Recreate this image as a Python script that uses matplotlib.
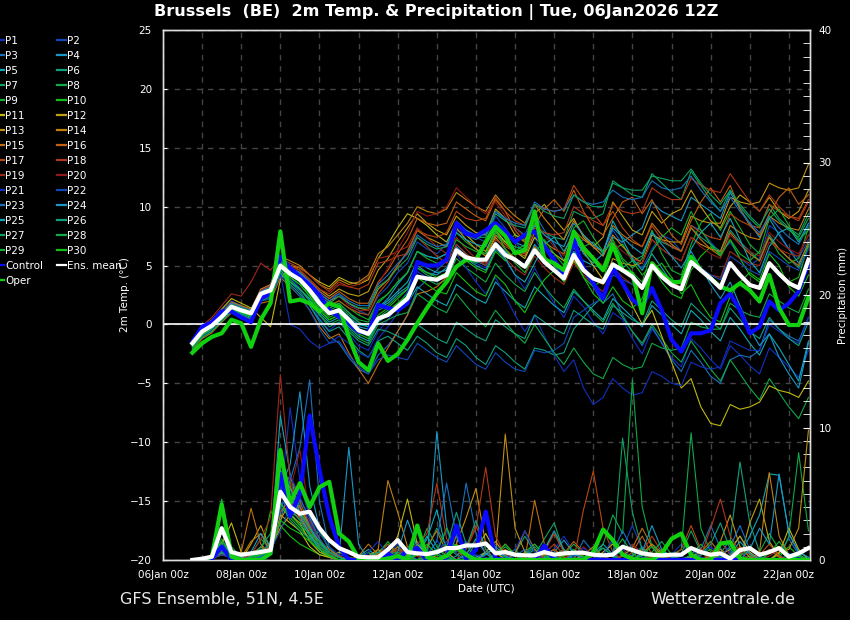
import matplotlib
matplotlib.use("Agg")
import matplotlib.pyplot as plt
import matplotlib.dates as mdates
from matplotlib.lines import Line2D
from matplotlib.ticker import MultipleLocator
import pandas as pd

# ---------------- DATA ----------------
times = pd.date_range("2026-01-06 18:00", "2026-01-22 12:00", freq="6h")  # 64 steps

member_names = [f"P{i}" for i in range(1, 31)]
member_colors = ["#1030c0", "#1048b8", "#1870c0", "#1898c8", "#10a8b8",
                 "#10a080", "#10a060", "#10a848", "#10b030", "#10c010",
                 "#c0b810", "#c0a010", "#c09010", "#c08010", "#c07010",
                 "#c06010", "#b84810", "#b03818", "#a02818", "#901818"]

# 2m temperature (deg C) of the 30 perturbed members
t_p01 = [-1.4,-0.3,0.3,1.2,2.0,1.6,1.0,2.8,3.4,5.6,4.0,3.1,2.0,0.5,-0.5,0.2,
         -0.8,-1.8,-2.2,-0.6,0.4,1.6,2.8,4.5,4.0,3.6,4.4,6.8,6.0,5.2,4.8,6.9,
         5.5,4.2,3.0,4.8,3.2,1.8,0.6,2.4,1.5,0.2,-0.8,1.0,0.4,-1.2,-2.5,-0.4,
         -1.5,-2.8,-3.6,-1.2,-2.0,-3.0,-3.8,-1.8,-2.6,-3.5,-4.2,-2.0,-2.8,-3.6,-4.5,-2.2]
t_p02 = [-1.8,-0.8,0.0,0.8,1.6,1.4,1.2,3.0,3.2,5.4,4.8,4.4,3.6,2.8,2.2,2.6,
         1.8,1.2,0.8,2.4,3.2,4.4,5.2,7.0,6.4,6.0,6.8,8.8,8.0,7.4,7.0,9.2,
         8.2,7.0,6.0,7.4,5.8,4.6,4.2,6.6,7.2,6.6,5.8,8.0,6.8,5.4,4.8,6.4,
         7.6,7.2,6.2,8.4,8.0,7.0,6.0,7.0,5.6,5.0,5.6,8.4,7.8,6.4,5.6,7.2]
t_p03 = [-1.5,-0.5,0.2,1.0,1.8,1.5,1.1,2.4,2.6,4.6,3.6,2.8,1.6,0.2,-1.0,-1.6,
         -2.8,-3.8,-4.2,-2.6,-1.8,-0.6,0.8,3.0,3.8,4.6,5.4,8.0,7.6,7.2,7.8,9.6,
         8.8,8.2,7.6,9.4,8.0,6.8,5.4,6.6,4.8,3.2,1.8,2.6,0.8,-0.6,-1.8,-0.2,
         -1.6,-3.0,-4.0,-2.2,-3.2,-4.4,-5.0,-3.0,-2.6,-2.8,-2.2,0.4,-0.4,-1.0,-1.4,0.6]
t_p04 = [-1.7,-0.7,-0.2,0.6,1.4,1.0,0.8,2.4,2.8,4.8,4.4,4.0,3.2,2.2,1.4,1.8,
         1.0,0.2,-0.2,1.4,1.8,2.6,3.2,5.0,4.4,4.2,4.8,6.6,5.8,5.4,5.0,7.0,
         6.2,5.6,5.0,6.8,5.8,5.0,4.2,6.2,5.4,5.0,4.8,7.4,7.0,7.6,8.2,10.4,
         9.6,9.2,8.8,10.8,10.2,9.6,9.0,11.2,9.8,8.6,7.4,9.0,7.6,6.4,5.2,6.8]
t_p05 = [-1.9,-0.9,-0.4,0.4,1.2,0.9,0.6,2.0,2.4,4.2,3.6,3.0,2.2,1.0,0.2,0.6,
         -0.2,-1.0,-1.4,0.2,0.8,1.4,1.8,3.2,2.6,2.0,1.6,3.4,2.8,2.2,1.8,3.6,
         2.8,2.0,1.4,3.2,2.4,1.6,1.0,2.8,2.0,1.2,0.4,2.2,1.4,0.6,-0.2,1.6,
         0.8,0.0,-0.8,1.2,0.4,-0.6,-1.4,0.6,-0.4,-1.6,-2.6,-0.8,-2.0,-3.4,-4.8,-1.4]
t_p06 = [-2.0,-1.0,-0.6,0.2,1.0,0.7,0.4,2.0,2.2,4.4,3.4,2.6,1.6,0.4,-0.6,-0.2,
         -1.2,-2.2,-2.8,-1.4,-1.0,-1.6,-2.2,-1.0,-1.6,-2.4,-2.8,-1.2,-1.8,-2.8,-3.4,-1.8,
         -2.4,-3.2,-3.8,-2.0,-2.2,-2.6,-2.4,-0.4,0.6,1.6,2.4,4.6,4.8,5.4,5.8,7.8,
         7.0,6.6,6.2,8.2,7.4,6.8,6.2,8.0,7.0,6.2,5.4,7.6,6.4,5.6,4.8,6.6]
t_p07 = [-1.6,-0.6,0.0,0.8,1.6,1.3,1.0,2.6,3.0,5.2,4.6,4.0,3.0,2.0,1.2,1.6,
         0.8,0.2,-0.2,1.2,1.6,2.4,3.0,4.8,4.2,3.8,4.2,6.0,5.6,5.2,5.6,7.6,
         7.0,6.6,6.4,8.4,7.8,7.4,7.2,9.6,9.2,9.0,9.4,12.2,11.6,11.0,10.8,12.8,
         12.0,11.2,10.6,13.0,11.8,10.6,9.6,11.4,10.0,9.0,8.2,10.2,9.0,8.2,7.6,9.4]
t_p08 = [-1.8,-0.8,-0.2,0.6,1.4,1.1,0.9,2.4,2.8,4.8,4.0,3.4,2.4,1.2,0.4,0.8,
         0.0,-0.6,-1.0,0.6,1.2,1.8,2.6,4.2,3.8,3.4,3.8,5.6,4.8,4.2,3.6,5.2,
         4.2,3.4,2.8,4.4,3.2,2.2,1.4,3.0,2.0,1.0,0.2,1.8,0.6,-0.6,-1.6,0.0,
         -1.2,-2.4,-3.2,-1.4,-2.6,-3.8,-4.8,-3.0,-4.2,-5.4,-6.4,-4.6,-5.8,-7.0,-8.0,-6.2]
t_p09 = [-1.5,-0.4,0.1,0.9,1.7,1.4,1.1,2.7,3.1,5.2,4.6,4.2,3.4,2.4,1.6,2.0,
         1.4,0.8,0.4,2.0,2.6,3.6,4.4,6.2,5.8,5.6,6.0,7.8,7.0,6.4,6.0,7.8,
         7.0,7.6,7.2,8.8,6.8,5.0,4.2,5.6,6.6,7.0,6.0,7.2,5.6,4.8,5.6,8.0,
         6.0,4.6,4.2,6.8,8.6,9.4,8.0,9.6,8.2,6.8,6.0,7.4,6.0,5.2,5.6,8.2]
t_p10 = [-1.7,-0.6,-0.1,0.7,1.5,1.2,0.9,2.5,2.9,5.0,4.2,3.6,2.6,1.4,0.6,1.0,
         0.2,-0.4,-0.8,0.8,1.4,2.2,3.0,4.8,4.4,4.0,4.4,6.2,5.4,4.8,4.4,6.2,
         5.4,6.2,6.8,8.6,7.0,5.2,4.0,5.4,4.0,3.2,3.8,6.4,6.8,5.4,4.2,5.0,
         3.6,2.6,2.2,4.6,5.8,6.6,6.0,7.2,5.6,4.2,3.6,5.0,4.2,3.6,4.0,6.8]
t_p11 = [-1.4,-0.2,0.4,1.3,2.2,1.8,1.4,0.6,-0.2,3.8,5.0,4.8,4.2,3.6,3.2,4.0,
         3.6,3.4,3.8,5.6,6.8,8.2,9.4,9.0,8.4,7.6,7.0,8.6,7.6,6.8,6.2,8.0,
         7.0,6.2,5.6,7.4,6.6,6.0,5.4,7.2,6.2,5.0,3.8,5.2,3.4,1.6,0.0,1.2,
         -1.0,-3.2,-5.4,-4.6,-7.0,-8.4,-8.6,-6.8,-7.2,-7.0,-6.6,-5.2,-5.6,-5.8,-6.2,-4.8]
t_p12 = [-1.6,-0.5,0.1,0.9,1.8,1.5,1.2,2.8,3.2,5.6,5.0,4.6,3.8,3.0,2.4,3.0,
         2.6,2.4,2.8,4.6,5.6,7.0,8.2,9.4,8.6,8.0,7.6,9.2,8.4,7.8,7.6,9.8,
         9.0,7.6,7.0,9.4,10.2,9.0,8.0,9.0,7.4,6.6,7.4,10.4,9.2,8.0,7.6,9.6,
         8.6,9.4,9.8,11.4,10.0,8.8,8.2,10.0,11.0,10.4,9.6,10.8,9.6,9.0,9.6,11.4]
t_p13 = [-1.7,-0.7,-0.1,0.7,1.6,1.3,1.0,2.6,3.0,5.4,4.8,4.4,3.6,2.6,2.0,2.4,
         1.8,1.4,1.2,3.0,3.8,5.0,6.2,8.0,7.4,7.0,6.6,8.2,7.2,6.4,5.8,7.4,
         6.4,5.6,5.0,6.6,5.6,4.6,3.8,5.4,4.6,3.8,3.4,5.6,5.2,5.0,5.2,7.6,
         7.2,7.0,7.0,9.2,8.8,8.6,8.6,10.8,10.4,10.2,10.4,12.0,11.6,11.4,11.6,13.6]
t_p14 = [-1.5,-0.4,0.2,1.0,1.9,1.6,1.3,3.0,3.4,5.8,5.4,5.0,4.2,3.4,3.0,3.8,
         3.4,3.6,4.2,6.0,6.6,7.6,8.6,10.0,9.6,9.4,9.8,11.2,10.6,10.0,9.6,11.0,
         10.0,9.2,8.6,10.2,9.0,8.0,7.2,8.8,7.6,6.6,5.8,7.6,6.6,5.8,5.2,7.2,
         6.4,5.8,5.4,7.4,6.8,6.4,6.2,8.4,7.8,7.4,7.2,9.2,8.6,8.2,8.0,9.8]
t_p15 = [-2.2,-1.2,-0.7,0.2,1.0,0.7,0.4,1.8,2.0,4.0,3.2,2.4,1.2,-0.2,-1.2,-0.8,
         -2.4,-3.8,-5.0,-3.4,-2.0,-0.6,0.8,2.6,2.8,3.2,4.0,6.0,5.6,5.4,5.6,7.6,
         6.8,6.2,5.8,7.8,7.0,6.4,6.0,8.0,7.2,6.6,6.2,8.4,7.6,7.0,6.6,8.6,
         7.6,6.8,6.2,8.2,7.2,6.4,5.8,7.8,6.8,6.0,5.4,7.4,6.4,5.6,5.0,7.0]
t_p16 = [-1.6,-0.6,0.0,0.8,1.6,1.3,1.1,2.8,3.2,5.6,5.0,4.6,3.8,2.8,2.2,2.8,
         2.2,1.8,1.8,3.6,4.6,6.0,7.2,9.0,8.6,8.4,8.6,10.4,9.8,9.2,8.8,10.6,
         9.6,8.0,7.0,8.4,9.8,10.6,9.6,11.4,9.6,8.2,7.6,9.0,10.4,10.8,9.4,10.6,
         9.0,7.6,6.8,8.8,10.4,11.6,10.4,11.8,9.8,8.4,7.6,9.4,10.8,11.6,10.2,11.0]
t_p17 = [-1.8,-0.8,-0.2,0.6,1.4,1.1,0.8,2.4,2.8,5.0,4.4,4.0,3.2,2.2,1.6,2.0,
         1.4,1.0,0.8,2.6,3.6,5.0,6.2,8.0,7.6,7.4,7.8,9.6,9.0,8.8,9.0,10.8,
         9.6,8.8,8.4,10.2,9.8,9.6,9.8,11.8,10.6,9.4,8.4,9.6,8.2,7.2,6.6,8.4,
         7.2,6.6,6.2,8.4,7.8,7.4,7.2,9.4,8.8,8.4,8.2,10.2,9.6,9.2,9.0,10.6]
t_p18 = [-1.6,-0.6,0.1,0.9,1.7,1.4,1.2,2.9,3.3,5.6,5.2,4.8,4.2,3.4,2.8,3.6,
         3.2,3.0,3.4,5.2,5.4,5.8,6.0,7.4,6.6,5.8,5.2,6.8,6.0,5.4,5.2,7.2,
         6.6,6.2,6.0,8.2,7.8,7.6,7.8,10.0,9.4,8.8,8.4,10.2,9.6,9.4,9.6,11.6,
         11.0,10.6,10.6,12.4,11.8,11.4,11.2,12.8,11.6,10.4,9.6,11.0,10.0,9.2,8.8,10.4]
t_p19 = [-1.3,-0.1,0.6,1.6,2.6,2.4,3.6,5.2,4.6,5.8,5.0,4.6,3.8,3.0,2.6,3.4,
         3.2,3.4,4.0,5.6,5.8,6.2,6.6,8.2,7.4,6.6,6.0,7.4,6.4,5.6,5.0,6.6,
         5.6,4.8,4.2,5.8,4.8,4.0,3.4,5.2,4.2,3.4,2.8,4.8,4.0,3.4,3.0,5.0,
         4.2,3.6,3.2,5.2,4.6,4.2,4.0,6.2,5.6,5.2,5.0,7.0,6.4,6.0,5.8,7.6]
t_p20 = [-1.7,-0.7,-0.1,0.7,1.5,1.2,1.0,2.6,3.0,5.2,4.6,4.2,3.4,2.4,1.8,2.4,
         1.6,1.2,1.2,3.4,4.8,6.4,7.8,9.6,9.2,9.4,10.0,11.6,10.8,10.0,9.4,10.4,
         9.2,8.2,7.4,8.8,7.6,6.6,5.8,7.4,6.4,5.6,5.0,7.0,6.2,5.6,5.2,7.2,
         6.4,5.8,5.4,7.4,6.6,6.0,5.6,7.6,6.8,6.2,5.8,7.8,7.0,6.4,6.0,7.6]
t_p21 = [-1.6,-0.5,0.0,0.8,1.6,1.2,0.8,2.2,2.4,4.4,0.0,-0.4,-1.4,-2.0,-1.6,-1.0,
         -1.6,-2.4,-2.8,-1.2,-0.2,1.0,2.2,4.2,4.0,3.8,4.2,6.0,4.8,3.6,2.6,4.0,
         2.4,0.8,-0.6,0.8,-1.0,-2.6,-4.0,-3.0,-5.4,-6.8,-6.2,-4.6,-5.4,-6.0,-5.8,-4.0,
         -4.4,-5.0,-5.2,-3.2,-3.6,-3.8,-3.6,-1.4,-1.8,-2.2,-2.2,0.0,-0.6,-1.2,-1.6,0.6]
t_p22 = [-1.9,-1.0,-0.5,0.3,1.1,0.8,0.5,2.0,2.2,4.2,3.2,2.4,1.2,-0.4,-1.6,-1.4,
         -2.6,-3.6,-4.2,-3.0,-2.6,-2.8,-3.0,-1.6,-2.2,-2.8,-3.2,-1.8,-2.6,-3.4,-3.8,-2.4,
         -3.2,-3.8,-4.0,-2.2,-2.4,-2.2,-1.6,0.6,1.2,1.8,2.2,4.2,3.8,3.4,3.2,5.2,
         4.4,3.8,3.4,5.4,4.8,4.2,3.8,5.8,5.2,4.6,4.2,6.2,5.6,5.0,4.6,6.4]
t_p23 = [-1.5,-0.4,0.2,1.0,1.8,1.5,1.2,2.8,3.2,5.4,4.8,4.4,3.6,2.6,2.0,2.6,
         2.0,1.6,1.6,3.4,4.2,5.2,6.0,7.6,7.0,6.6,6.8,8.6,8.0,7.6,7.6,9.6,
         9.0,8.6,8.4,10.4,9.8,9.6,9.8,11.0,10.4,10.2,10.4,11.4,10.8,10.6,10.8,12.2,
         11.6,11.4,11.6,12.6,11.4,10.4,9.6,10.8,9.6,8.6,7.8,9.2,8.2,7.4,6.8,8.4]
t_p24 = [-1.7,-0.6,0.0,0.8,1.6,1.3,1.0,2.6,3.0,5.2,4.4,3.8,2.8,1.6,0.8,1.2,
         0.4,-0.2,-0.4,1.4,2.2,3.4,4.4,6.2,5.8,5.6,6.0,7.8,7.2,6.8,6.6,8.4,
         7.6,7.0,6.6,8.4,7.6,7.0,6.6,8.6,7.6,6.8,6.2,8.2,7.4,6.6,6.0,7.8,
         6.8,5.8,4.8,6.2,4.8,3.4,2.2,3.6,1.6,-0.4,-1.8,-0.8,-2.8,-4.2,-5.4,-1.6]
t_p25 = [-1.8,-0.7,-0.2,0.6,1.4,1.1,0.9,2.5,2.8,4.9,4.2,3.8,2.8,1.8,1.0,1.4,
         0.6,0.0,-0.2,1.4,2.0,2.8,3.6,5.4,4.8,4.4,4.6,6.4,5.6,5.0,4.6,6.4,
         5.6,4.2,3.6,5.2,6.8,7.4,6.2,7.6,6.0,5.2,6.0,8.8,7.2,5.6,4.6,6.0,
         4.8,3.6,3.8,6.4,7.8,8.6,7.4,9.0,7.2,5.4,4.4,6.6,7.8,8.2,7.0,8.6]
t_p26 = [-1.9,-0.9,-0.4,0.5,1.3,1.0,0.7,2.2,2.6,4.6,3.8,3.0,2.0,0.8,-0.2,0.2,
         -0.6,-1.4,-1.8,-0.4,-0.6,-1.0,-1.4,0.0,-0.6,-1.2,-1.6,0.2,-0.4,-1.0,-1.4,0.4,
         -0.2,-0.8,-1.2,0.8,0.2,-0.4,-0.8,1.2,0.6,0.0,-0.4,1.6,1.0,0.4,0.0,2.0,
         1.2,0.4,-0.2,1.8,1.0,0.2,-0.4,1.4,0.4,-0.6,-1.2,0.6,-0.4,-1.2,-1.8,0.2]
t_p27 = [-1.6,-0.5,0.1,0.9,1.7,1.4,1.1,2.7,3.1,5.3,4.7,4.3,3.4,2.4,1.8,2.4,
         1.8,1.4,1.4,3.2,3.8,4.8,5.6,7.4,6.8,6.4,6.6,8.4,7.8,7.4,7.4,9.4,
         8.8,8.4,8.2,10.2,9.6,9.2,9.0,11.0,10.4,10.0,10.0,12.0,11.6,11.4,11.4,12.6,
         12.4,12.2,12.2,13.2,12.0,11.0,10.2,11.4,10.2,9.2,8.4,9.8,8.8,8.0,7.4,9.0]
t_p28 = [-2.1,-1.1,-0.6,0.3,1.1,0.8,0.5,2.0,2.4,4.4,3.6,3.0,2.0,0.8,0.0,0.4,
         -0.4,-1.2,-1.6,0.0,0.4,0.8,1.0,2.6,2.0,1.4,1.0,2.6,1.6,0.6,-0.2,1.2,
         0.2,-0.8,-1.6,0.0,-1.2,-2.4,-3.4,-2.0,-3.2,-4.2,-4.6,-2.8,-3.4,-3.8,-3.6,-1.6,
         -2.0,-2.2,-2.0,0.2,-0.2,-0.4,-0.4,1.8,1.2,0.8,0.6,2.6,2.0,1.4,1.0,3.0]
t_p29 = [-1.7,-0.7,-0.1,0.7,1.5,1.2,1.0,2.6,3.0,5.1,4.5,4.1,3.2,2.2,1.4,1.8,
         1.0,0.4,0.2,1.8,2.6,3.6,4.4,6.2,5.6,5.2,5.4,7.2,6.6,6.2,6.0,8.0,
         6.4,5.2,4.4,6.0,7.2,6.0,5.0,8.2,8.8,7.4,6.2,7.0,5.4,4.4,3.6,6.2,
         7.4,8.2,7.6,9.6,8.0,6.8,5.8,7.2,6.0,5.4,6.2,9.0,9.8,8.4,7.2,8.0]
t_p30 = [-1.9,-0.9,-0.3,0.5,1.3,1.0,0.7,2.3,2.7,4.8,4.0,3.4,2.4,1.2,0.4,0.8,
         0.0,-0.8,-1.2,0.4,1.0,1.8,2.4,4.0,3.4,2.8,2.6,4.4,3.6,2.8,2.4,4.2,
         3.4,2.0,1.0,2.6,3.8,4.6,3.6,5.8,4.0,2.6,1.8,3.2,2.0,1.4,2.2,4.6,
         5.2,4.0,2.6,3.4,1.8,0.6,0.2,2.4,3.6,4.4,3.8,6.0,5.0,3.2,2.4,4.2]

t_control = [-1.5,-0.2,0.2,1.1,1.1,0.6,0.2,2.2,2.6,5.75,4.8,4.05,3.35,2.5,1.2,0.65,
             0.1,-0.6,-0.75,1.65,1.4,1.2,1.8,5.3,5.0,5.0,5.5,8.6,7.7,7.5,8.0,8.6,
             7.9,7.0,7.6,7.9,6.6,5.5,4.2,7.2,4.8,3.5,2.2,4.8,3.5,2.1,1.5,3.1,
             1.2,-1.3,-2.3,-0.75,-0.75,-0.5,1.8,2.6,1.2,-0.75,-0.2,1.95,1.2,1.8,2.8,5.2]
t_oper = [-2.4,-1.6,-1.05,-0.75,0.4,0.1,-1.9,0.4,1.8,7.9,1.95,2.1,1.8,1.1,1.8,1.5,
          -1.05,-3.2,-3.9,-1.6,-3.1,-2.5,-1.3,0.1,1.4,2.6,3.6,4.9,5.5,5.5,7.0,8.3,
          7.5,6.05,6.3,9.6,5.5,5.2,4.6,7.9,6.5,5.6,4.6,6.75,4.6,4.3,0.95,5.2,
          4.3,3.6,3.6,5.75,4.6,3.9,3.2,2.9,3.5,2.9,1.95,4.2,1.4,-0.05,-0.05,2.3]
t_mean = [-1.6,-0.6,-0.1,0.65,1.5,1.2,0.95,2.6,2.9,5.0,4.3,3.8,2.9,1.8,0.95,1.2,
          0.4,-0.5,-0.8,0.5,0.8,1.5,2.2,4.05,3.9,3.8,4.2,6.3,5.7,5.5,5.5,6.8,
          5.9,5.5,4.9,6.3,5.3,4.6,3.9,5.9,4.6,3.9,3.6,5.1,4.6,4.05,3.1,5.0,
          4.05,3.35,3.0,5.3,4.6,3.9,3.1,5.2,4.2,3.35,3.1,5.2,4.3,3.5,3.1,5.5]

# 6-hourly precipitation (mm) of the 30 perturbed members
r_p01 = [0,0,0.2,1.2,0.4,0,0,0.3,0.8,4.5,11.5,6.0,3.2,1.5,0.4,0,
         0,0,0.5,0.2,0,0,0.3,0.8,0.2,1.5,0.5,0,0,0,0.6,1.2,
         0.4,0,0,0,0.2,0.8,1.8,0.6,0,0,0.3,1.4,0.8,0.2,0,0,
         0,0.4,1.2,0.3,0,0,0,0.6,1.8,0.4,0,0,0,0.5,0.2,0]
r_p02 = [0,0,0.1,0.8,0.2,0,0.2,0.6,1.4,3.2,5.4,4.2,2.0,0.8,0.2,0,
         0,0.2,0,0,0.4,1.2,0.5,0,0,0.8,2.2,0.6,1.4,0.3,0,0,
         0,0,0.4,1.2,0.5,0,0,0,0.2,0.6,0,0,0.9,2.6,0.8,0,
         0,0,0.3,0,0,0.5,1.4,0.6,0,0,0.2,0.8,0.3,0,0,0]
r_p03 = [0,0,0.3,1.0,0.6,0.1,0,0.2,0.6,2.8,6.0,8.5,13.6,4.4,1.0,0.2,
         0,0,0,0.4,0,0,0.6,1.4,0.4,0,0,1.2,5.8,2.0,0.5,0,
         0,0,0,0.3,0.8,0.2,0,0,1.5,0.6,0,0,0,0.4,1.0,0.3,
         0,0,0,0.2,0.8,2.6,0.9,0,0,0.3,0,0,0.6,1.6,0.4,0]
r_p04 = [0,0,0.2,0.6,0.3,0,0,0.4,1.0,5.5,7.2,12.7,5.6,2.4,0.8,0.3,
         8.5,1.2,0,0,0.3,0.8,0.2,0,0,9.7,2.5,0.4,0,0,0.5,0.8,
         0.2,0,0,0,0,0.6,1.5,0.5,0,0,0,0,0.4,0.8,0.2,0,
         0,0,0,0,0,0.4,0.2,0,0,0,0,0,0,0,0,0]
r_p05 = [0,0,0.1,0.5,0.2,0,0,0.2,0.8,10.9,6.5,3.4,2.8,1.2,0.4,0,
         0,0.3,0.8,0.2,0,0,0,0.4,1.6,3.8,0.6,0,0,0.2,0.6,0,
         0,0,0.3,0.8,0.2,0,0,0,0,0.5,1.2,0.4,0,0,0.4,0,
         0,0,0,0.3,0.6,0.2,0,0,0.4,1.8,3.4,6.5,6.4,2.0,0.6,0.2]
r_p06 = [0,0,0.2,1.4,0.5,0,0.3,1.0,0.6,7.2,5.8,4.0,2.6,1.0,0.3,0,
         0,0,0,0.6,1.2,0.4,0,0,0.8,2.4,1.0,3.6,1.2,0,0,0,
         0,0.5,1.8,0.6,0,0,0,0,0.3,0,0,0,0,0,0.4,1.2,
         0.6,0,0,0,0,0,0.5,1.5,7.4,2.8,0.6,0,0,0,0.3,0]
r_p07 = [0,0,0.3,2.2,0.6,0,0.4,1.6,0.8,6.4,4.0,3.0,1.8,1.2,0.6,0.2,
         0,0,0,0.2,0.6,0,0,0.5,2.4,1.0,0.3,0,0,1.4,3.2,0.8,
         0,0,0,0.4,1.6,2.8,0.6,0,0,0.3,0,0,9.2,3.6,0.8,0,
         0,0,0.5,2.2,0.6,0,0,0,0,0.3,0,0,0,0,0.4,0]
r_p08 = [0,0,0.2,1.6,0.4,0,0,0.6,1.2,5.2,3.6,2.6,1.6,0.6,0.2,0,
         0,0.2,0.6,0,0,0,0.4,1.2,0.3,0,0,1.8,0.6,0,0,0,
         0.3,0.8,0,0,0,0,0.4,1.2,0.5,0,1.2,3.4,2.0,13.6,4.0,1.0,
         0,0.4,0.8,9.6,2.4,0.6,0,0,0.3,0.8,0.2,0,0,1.8,8.1,2.2]
r_p09 = [0,0,0.4,4.6,1.0,0.2,0,0.3,0.6,4.0,3.2,2.4,1.6,2.2,0.8,0.2,
         0,0,0,0.5,1.4,0.4,0,0,0,0.6,2.4,0.8,0,0,0,0.3,
         1.0,0.4,0,0,0,0.4,0.8,0.2,0,0,0,0.6,1.6,0.5,0,0,
         0,0,0,0.4,1.2,0.3,0,0,0,0,0.6,2.0,0.8,0,0,0]
r_p10 = [0,0,0.2,1.0,0.4,0,0,0.4,3.7,2.6,1.8,1.2,0.8,0.4,0.2,0,
         0,0,0,0,0.3,1.0,0.3,0,0,0.4,1.0,0.4,0,0,0,0,
         0,0,0.6,1.2,0.4,0,0,0,0,0.3,0.9,0.3,0,0,0,0,
         0.3,0,0,0,0.4,0.8,0.2,0,0,0,0,0,0.4,1.0,0.3,0]
r_p11 = [0,0,0.3,1.2,2.8,0.6,0.3,0.4,0.8,3.4,2.8,2.2,1.0,0.4,0.2,0.6,
         0.2,0,0,0,0.5,1.8,4.6,1.2,0.4,0,0,0,0,0.8,2.0,0.6,
         0,0,0,0,0.4,0.8,0.2,0,0,0,0.6,1.2,0.4,0,0,0.3,
         0.8,0.2,0,0,0,0,0.4,0.8,1.8,0.6,0,0,0.5,2.4,0.8,0]
r_p12 = [0,0,0.2,0.6,0.3,0,1.2,2.6,0.8,2.4,3.4,2.8,1.4,0.6,0.3,0,
         0,0,0.3,0.8,0.2,0,0,0,0.4,0.2,0,0,0,0,0.6,1.4,
         0.4,0,0,0,0.8,2.0,0.6,0,0,0,0,0,0,0.3,0.8,0.2,
         0,0,0,0.2,0.6,0.2,0,0,0,2.8,4.6,1.4,0.3,0,0,0]
r_p13 = [0,0,0.1,0.4,0.2,0,0.6,0.8,0.4,3.0,4.4,3.2,2.0,0.8,0.2,0,
         0,0,0.2,0.4,0,0,0.5,1.0,0.3,0,0,1.2,3.2,5.4,1.2,0.4,
         9.5,2.4,0.6,0,0,0,0.3,0.6,0.2,0,0,0,0,0,0,0,
         0,0,0,0,0,0.4,1.4,3.4,1.0,0.2,0,0,0.6,0.8,2.4,9.8]
r_p14 = [0,0,0.2,0.6,0.4,0.2,1.4,2.0,0.6,4.8,5.6,3.6,2.2,1.4,0.6,0.2,
         0,0,0,0.8,6.0,3.6,1.0,0.3,0,0,0.4,1.2,0.4,0,0,0,
         0,0.5,2.2,0.8,0,0,0,0,0.4,1.0,0.3,0,0,0,0.5,1.2,
         0.4,0,0,0,0,0.3,0.8,0.2,0,0,0.6,6.6,1.8,0.4,0,0]
r_p15 = [0,0,0.3,1.0,0.4,0.6,3.9,1.2,0.4,3.6,4.6,4.0,2.4,1.0,0.4,0.2,
         0,0.3,1.2,0.4,0,0,0,0.4,1.0,2.2,0.6,0,0,0,0,0.4,
         1.2,0.4,0,4.5,1.2,0,0,0,0,0,0,0,0.3,0.9,2.4,1.0,
         0.2,0,0,0,0.6,1.4,0.5,0,0,0,0.3,0.8,0.2,0,0,0]
r_p16 = [0,0,0.2,0.8,0.3,0,0.4,1.0,0.5,5.0,6.4,4.4,2.6,1.4,0.8,0.3,
         0,0,0,0,0.4,1.0,0.3,0,0,0,0.6,1.8,0.5,0,0,0.3,
         0.8,0.3,0,0,0,0,0.5,1.4,0.6,0,0,0,0,0.6,1.8,0.4,
         0,0,0,0,0,0,0,0.3,1.0,0.4,0,0,0,0,0,0]
r_p17 = [0,0,0.2,0.6,0.3,0,0.2,0.8,0.4,4.2,3.6,3.2,2.4,1.2,0.6,0.2,
         0,0,0,0.4,1.2,0.5,0,0,0,0,0,0,1.0,2.6,0.8,0,
         0,0,0,0,0.3,0.8,0.2,0,3.8,6.7,2.4,0.6,0,0,0,0,
         0,0.3,0.8,2.6,0.8,0,0,0,0,0,0.4,1.2,0.3,0,0,0]
r_p18 = [0,0,0.3,0.8,0.4,0,0.3,0.6,1.2,5.6,4.4,3.8,3.0,1.6,0.6,0.2,
         0,0,0,0,0.3,0.8,0.4,1.2,2.0,5.8,1.6,0.4,0.8,2.4,7.0,1.8,
         0.4,0,0,0,0.5,1.2,0.4,0,0,0,0,0,0,0,0.6,1.8,
         0.6,0,0,0,0.3,2.4,4.6,1.8,0.6,0,0,0,0,0,0,0]
r_p19 = [0,0,0.2,0.8,0.3,0,0.4,1.6,3.2,14.0,6.0,3.4,2.2,1.0,0.4,0,
         0,0,0,0,0,0.4,1.0,0.3,0,0,0.4,0.8,0.2,0,0,0,
         0,0,0,0,0.6,2.0,0.6,0,0,0,0,0,0.4,1.2,0.5,0,
         0,0,0,0,0,0.5,1.4,0.4,0,0,0,0.3,0.8,0.2,0,0]
r_p20 = [0,0,0.1,0.4,0.2,0,0,0.5,1.0,4.6,5.2,8.3,3.2,1.4,0.5,0.2,
         0,0,0,0,0,0.3,0.8,0.3,0,0,0,0,0.5,1.4,0.6,0,
         0,0,0,0,0,0,0,0.4,1.0,0.3,0,0,0,0,0,0,
         0,0,0,0,0,0,0,0,0.3,0.8,0.2,0,0,0,0,0]
r_p21 = [0,0,0.2,0.6,0.3,0,0,0.3,0.6,3.8,6.4,4.8,2.8,1.2,0.4,0,
         0,0,0.6,1.4,0.4,0,0,0,0.3,0.8,0.3,0,0,0.4,0.2,0,
         0,0.8,2.2,0.6,0,0,0,0.3,0.9,0.3,0,0,0,0,0,0,
         0,0,0,0,0.4,1.0,0.3,0,0,0,0,0,0,0,0,0]
r_p22 = [0,0,0.1,0.4,0.2,0,0.2,0.5,0.8,2.2,4.0,5.6,3.4,2.0,1.0,0.4,
         0.2,0,0,0.3,0.6,0.2,0,0,0,0.6,1.4,0.4,0,0,0,0,
         0,0,0,0.4,1.0,0.3,0,0,0,0,0.4,1.6,0.5,0,0,0,
         0,0,0.3,0.8,0.2,0,0,0,0,0,0,0,0,0,0,0]
r_p23 = [0,0,0.2,0.8,0.4,0.1,0,0.3,0.6,4.0,5.0,4.6,3.2,1.6,0.6,0.2,
         0,0,0,0,0.5,1.6,0.5,0,0.4,1.4,5.8,1.8,0.4,0,0,0,
         0,0.3,0.8,0.2,0,0,0,0,0,0,0,0.6,2.2,0.8,0.2,0,
         0,0,0,0,0,0,0.3,1.0,2.6,0.8,0.2,0,0,0,0,0]
r_p24 = [0,0,0.3,1.0,0.6,0.2,0.6,2.0,1.0,6.0,4.8,3.4,2.0,0.8,0.3,0,
         0,0,0,0,0,0.6,3.0,1.0,0.3,0,0,0,0,0,0.4,1.0,
         0.3,0,0,0,0,0,0,0.4,0.2,0,0,0,0,0,0.6,2.6,
         0.8,0.2,0,0,0,0,0,0,0,0.8,2.4,1.2,6.5,2.0,0.6,0.2]
r_p25 = [0,0,0.2,0.8,0.3,0,0.3,0.8,0.5,6.8,5.4,3.6,2.4,1.4,0.6,0.2,
         0,0,0,0,0,0,0,0.6,1.8,0.6,0,0,0.4,1.6,0.5,0,
         0,0,0,0,0.8,2.2,0.8,0,0,0,0,0,0,0,0,0,
         0,0,0,0,0,0,0,0.4,1.4,0.5,0,0,0,0,0,0]
r_p26 = [0,0,0.2,1.0,0.4,0,0,0.6,1.2,5.8,3.8,3.0,1.8,0.8,0.3,0,
         0,0,0.3,0.6,0.2,0,0,0,0,0,0,0.3,0.9,3.0,0.8,0,
         0,0,0,0,0,0,0,0,0,0.5,0.9,0.3,0,0,0,0,
         0,0,0,0,0.4,1.2,2.8,0.8,0,0,0,0,0,0,0.3,0.8]
r_p27 = [0,0,0.3,1.2,0.4,0,0.2,1.0,2.0,4.4,3.0,2.2,1.6,1.2,0.6,0.2,
         0,0,0,0,0,0.3,0.8,2.4,0.6,0,0,0,0,0,0,0,
         0,0,0.4,1.0,0.3,0,0,0,0,0,0,0,0,0.3,0.9,0.3,
         0,0,0,0,0,0,0,0,0,0,0,0,0,0,0,0]
r_p28 = [0,0,0.2,0.6,0.2,0,0,0.4,0.8,5.0,4.2,3.6,2.4,1.0,0.4,0,
         0,0,0,0,0.4,0.6,0.2,0,0,0,0.4,1.0,0.3,0,0,0,
         0,0,0,0.4,0.6,0.2,0,0,0,0,0,0,0,0,0,0.6,
         1.4,0.4,0,0,0,0,0,0,0.3,0.9,0.3,0,0,0,0,0]
r_p29 = [0,0,0.3,1.4,0.6,0,0.2,0.6,0.4,4.2,3.4,2.6,2.0,1.4,0.4,0,
         0,0,0,0,0,0,0,0,0.3,0.8,0.3,0,0,0,0,0.4,
         1.2,0.4,0,0,0,0,0,0,0,0,0,0,0,0,0.4,1.0,
         0.3,0,0,0,0,0,0,0,0,0,0,0.5,1.4,0.4,0,0]
r_p30 = [0,0,0.2,0.8,0.3,0,0.2,0.4,0.6,3.0,2.4,2.0,1.4,0.8,0.3,0,
         0,0,0,0,0,0,0,0.4,1.2,0.4,0,0,0,0,0,0,
         0,0,0,0,0,0,0.3,0.8,0.2,0,0,0,0,0,0,0,
         0,0,0,0,0,0,0,0,0,0,0,0,0,0,0,0]

r_control = [0,0,0.1,1.0,0.05,0,0,0,0.5,6.5,3.3,5.0,10.9,6.8,3.3,1.0,
             0,0,0,0,0.5,0,0.75,0.9,0,0,0.2,2.6,0.1,0.75,3.65,0.1,
             0,0,0,0,1.1,0,0,0,0,0,0,0,0,0,0,0,
             0,0,0,0,0,0,0,0,0,0,0,0,0,0,0,0]
r_oper = [0,0,0.25,4.2,0.25,0,0,0,0.5,8.3,4.3,5.8,4.0,5.5,5.9,2.0,
          1.4,0.1,0,0,0.1,0.3,0,2.6,0.2,0,0.3,1.0,0.4,0,0,0,
          0,0,0,0,0,0,0,0,0,0.6,2.3,1.5,0.4,0.1,0,0,
          0.5,1.6,2.0,0.4,0,0,1.25,1.35,0.1,0,0,0,0,0,0,0]
r_mean = [0,0.1,0.25,2.4,0.6,0.4,0.5,0.6,0.75,5.15,4.0,3.5,3.65,2.4,1.5,0.9,
          0.6,0.25,0.2,0.2,0.8,1.5,0.6,0.5,0.45,0.6,0.9,0.9,1.1,1.1,1.25,0.5,
          0.6,0.4,0.35,0.35,0.6,0.4,0.5,0.55,0.55,0.4,0.35,0.4,1.0,0.75,0.5,0.4,
          0.35,0.4,0.4,0.9,0.6,0.4,0.5,0.1,0.75,0.9,0.4,0.6,0.9,0.25,0.5,0.9]

temp_members = [t_p01, t_p02, t_p03, t_p04, t_p05, t_p06, t_p07, t_p08, t_p09, t_p10,
                t_p11, t_p12, t_p13, t_p14, t_p15, t_p16, t_p17, t_p18, t_p19, t_p20,
                t_p21, t_p22, t_p23, t_p24, t_p25, t_p26, t_p27, t_p28, t_p29, t_p30]
prec_members = [r_p01, r_p02, r_p03, r_p04, r_p05, r_p06, r_p07, r_p08, r_p09, r_p10,
                r_p11, r_p12, r_p13, r_p14, r_p15, r_p16, r_p17, r_p18, r_p19, r_p20,
                r_p21, r_p22, r_p23, r_p24, r_p25, r_p26, r_p27, r_p28, r_p29, r_p30]

title = "Brussels  (BE)  2m Temp. & Precipitation | Tue, 06Jan2026 12Z"
left_note = "GFS Ensemble, 51N, 4.5E"
right_note = "Wetterzentrale.de"

# ---------------- PLOT ----------------
W, H = 850, 620
fig = plt.figure(figsize=(W / 100, H / 100), dpi=100, facecolor="black")
ax = fig.add_axes([163 / W, (H - 560) / H, (810 - 163) / W, (560 - 30) / H])
ax.set_facecolor("black")
ax2 = ax.twinx()

CONTROL_C = "#0a0aff"
OPER_C = "#10d010"
MEAN_C = "#ffffff"

for i, (tv, rv) in enumerate(zip(temp_members, prec_members)):
    c = member_colors[i % 20]
    ax.plot(times, tv, color=c, lw=0.8, zorder=3)
    ax2.plot(times, rv, color=c, lw=0.8, zorder=3)

ax.plot(times, t_control, color=CONTROL_C, lw=3.0, zorder=5)
ax.plot(times, t_oper, color=OPER_C, lw=3.0, zorder=6)
ax.plot(times, t_mean, color=MEAN_C, lw=3.0, zorder=7)
ax2.plot(times, r_control, color=CONTROL_C, lw=3.0, zorder=5)
ax2.plot(times, r_oper, color=OPER_C, lw=3.0, zorder=6)
ax2.plot(times, r_mean, color=MEAN_C, lw=3.0, zorder=7)

ax.axhline(0, color="white", lw=1.2, zorder=4)

x0 = pd.Timestamp("2026-01-06 00:00")
x1 = x0 + pd.Timedelta(days=16.54)
ax.set_xlim(x0, x1)
ax.set_ylim(-20, 25)
ax2.set_ylim(0, 40)

ax.set_yticks(range(-20, 30, 5))
ax.set_xticks(pd.date_range("2026-01-06", "2026-01-22", freq="2D"))
ax.set_xticks(pd.date_range("2026-01-06", "2026-01-22", freq="1D"), minor=True)
ax.xaxis.set_major_formatter(mdates.DateFormatter("%d%b %Hz"))

ax.grid(True, which="both", axis="x", color="#444444", lw=1.0, ls=(0, (4, 4)))
ax.grid(True, which="major", axis="y", color="#444444", lw=1.0, ls=(0, (4, 4)))
ax.set_axisbelow(True)

ax2.set_yticks(range(0, 41, 10))
ax2.yaxis.set_minor_locator(MultipleLocator(1))

for a in (ax, ax2):
    for s in a.spines.values():
        s.set_color("#dddddd")
        s.set_linewidth(1.0)

ax.tick_params(axis="x", which="both", colors="white", labelsize=7.5, length=0, pad=7)
ax.tick_params(axis="y", colors="white", labelsize=7.5, direction="in", length=3, pad=8)
ax2.tick_params(axis="y", which="both", colors="white", labelsize=7.5, direction="in", length=5, pad=6)

ax.set_ylabel("2m Temp. (°C)", color="white", fontsize=7.5, labelpad=0)
ax2.set_ylabel("Precipitation (mm)", color="white", fontsize=7.5, labelpad=5)
ax.set_xlabel("Date (UTC)", color="white", fontsize=7.5, labelpad=3)

fig.text(436 / W, 1 - 12 / H, title, color="white", fontsize=11.6, fontweight="bold",
         ha="center", va="center")
fig.text(120 / W, 1 - 599 / H, left_note, color="#e8e8e8", fontsize=11.5, ha="left", va="center")
fig.text(795 / W, 1 - 599 / H, right_note, color="#e8e8e8", fontsize=11.5, ha="right", va="center")

# legend: row-major order P1 P2 / P3 P4 ... / Control Ens. mean / Oper
col1 = [(member_names[i], member_colors[i % 20]) for i in range(0, 30, 2)]
col1 += [("Control", CONTROL_C), ("Oper", OPER_C)]
col2 = [(member_names[i], member_colors[i % 20]) for i in range(1, 30, 2)]
col2 += [("Ens. mean", MEAN_C)]
entries = col1 + col2
handles = [Line2D([0], [0], color=c, lw=1.6) for _, c in entries]
labels = [n for n, _ in entries]
leg = fig.legend(handles, labels, loc="upper left", bbox_to_anchor=(-0.006, 1 - 36 / H),
                 ncol=2, frameon=False, fontsize=7.5, handlelength=0.9, handletextpad=0.1,
                 columnspacing=1.3, labelspacing=0.48, borderaxespad=0, borderpad=0)
for t in leg.get_texts():
    t.set_color("white")

fig.savefig("out.png", dpi=100, facecolor="black")
